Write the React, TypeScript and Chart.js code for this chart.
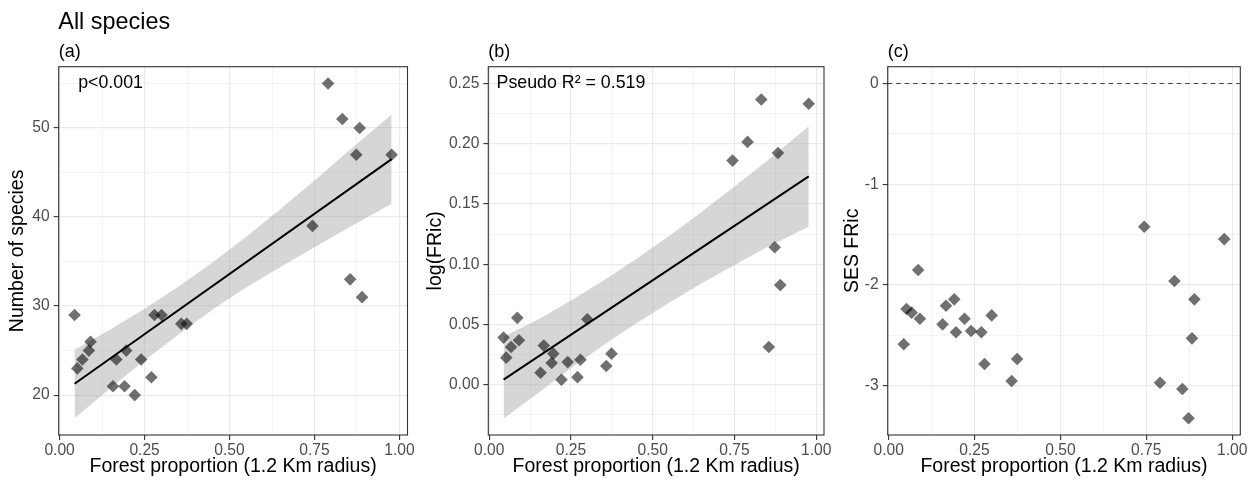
import React, { useEffect, useRef } from 'react';
import { Chart, registerables } from 'chart.js';

Chart.register(...registerables);

const FONT = "'Liberation Sans', Arial, Helvetica, sans-serif";

// ---- data ----
const forestProp = [0.044, 0.052, 0.067, 0.086, 0.091, 0.157, 0.167, 0.191, 0.196, 0.221, 0.240, 0.270, 0.279, 0.300, 0.358, 0.374, 0.744, 0.790, 0.832, 0.855, 0.873, 0.883, 0.890, 0.977];
const nSpecies = [29, 23, 24, 25, 26, 21, 24, 21, 25, 20, 24, 22, 29, 29, 28, 28, 39, 55, 51, 33, 47, 50, 31, 47];
const logFRic = [0.0391, 0.0225, 0.0313, 0.0555, 0.0369, 0.010, 0.0325, 0.018, 0.0258, 0.0042, 0.0188, 0.0063, 0.0208, 0.0544, 0.0155, 0.0258, 0.186, 0.2015, 0.2367, 0.0313, 0.1141, 0.1923, 0.0827, 0.2331];
const sesFRic = [-2.589, -2.239, -2.275, -1.852, -2.335, -2.391, -2.206, -2.143, -2.470, -2.335, -2.457, -2.470, -2.785, -2.302, -2.953, -2.735, -1.423, -2.970, -1.961, -3.033, -3.323, -2.530, -2.143, -1.545];

// fitted lines (start/end) and confidence bands
const fitX = [0.044, 0.977];
const fitA = [21.27, 46.5];
const fitB = [0.0042, 0.1729];
const bandX = [0.044, 0.15, 0.25, 0.35, 0.45, 0.55, 0.65, 0.75, 0.85, 0.977];
const bandLowA = [17.4, 20.8, 23.9, 26.8, 29.6, 32.1, 34.4, 36.6, 38.8, 41.5];
const bandHighA = [25.1, 27.4, 29.7, 32.2, 34.9, 37.8, 40.9, 44.1, 47.4, 51.5];
const bandLowB = [-0.028, -0.0069, 0.0136, 0.0329, 0.0511, 0.0681, 0.0842, 0.0994, 0.1142, 0.1312];
const bandHighB = [0.040, 0.0541, 0.0698, 0.0865, 0.1045, 0.1235, 0.1436, 0.1644, 0.1858, 0.2145];

// axes
const xRange = [-0.0027, 1.0237];
const xMajor = [0, 0.25, 0.5, 0.75, 1];
const xMinor = [0.125, 0.375, 0.625, 0.875];
const xTickLabels = ['0.00', '0.25', '0.50', '0.75', '1.00'];
const xTitle = 'Forest proportion (1.2 Km radius)';

const yRangeA = [15.52, 56.88];
const yMajorA = [20, 30, 40, 50];
const yMinorA = [25, 35, 45, 55];
const yLabelsA = ['20', '30', '40', '50'];

const yRangeB = [-0.0417, 0.2639];
const yMajorB = [0, 0.05, 0.1, 0.15, 0.2, 0.25];
const yMinorB = [-0.025, 0.025, 0.075, 0.125, 0.175, 0.225];
const yLabelsB = ['0.00', '0.05', '0.10', '0.15', '0.20', '0.25'];

const yRangeC = [-3.489, 0.166];
const yMajorC = [-3, -2, -1, 0];
const yMinorC = [-2.5, -1.5, -0.5];
const yLabelsC = ['-3', '-2', '-1', '0'];
const refLineC = 0;

const mainTitle = 'All species';

type Note = { text: string; x: number; y: number };
type Spec = {
  tag: string; left: number; width: number; axisWidth: number; padRight: number;
  yRange: number[]; yMajor: number[]; yMinor: number[]; yLabels: string[]; yTitle: string;
  points: number[]; fit?: number[]; bandLow?: number[]; bandHigh?: number[];
  note?: Note; refLine?: number; title?: string;
};

const panels: Spec[] = [
  { tag: '(a)', left: 0, width: 418, axisWidth: 58.7, padRight: 10.5, yRange: yRangeA, yMajor: yMajorA, yMinor: yMinorA, yLabels: yLabelsA, yTitle: 'Number of species', points: nSpecies, fit: fitA, bandLow: bandLowA, bandHigh: bandHighA, note: { text: 'p<0.001', x: 0.15, y: 55 }, title: mainTitle },
  { tag: '(b)', left: 418, width: 417, axisWidth: 70.3, padRight: 11, yRange: yRangeB, yMajor: yMajorB, yMinor: yMinorB, yLabels: yLabelsB, yTitle: 'log(FRic)', points: logFRic, fit: fitB, bandLow: bandLowB, bandHigh: bandHighB, note: { text: 'Pseudo R\u00B2 = 0.519', x: 0.25, y: 0.25 } },
  { tag: '(c)', left: 835, width: 422, axisWidth: 52.7, padRight: 16.7, yRange: yRangeC, yMajor: yMajorC, yMinor: yMinorC, yLabels: yLabelsC, yTitle: 'SES FRic', points: sesFRic, refLine: refLineC },
];

const isIn = (v: number, arr: number[]) => arr.some((a) => Math.abs(a - v) < 1e-9);

function gridFor(major: number[]) {
  return {
    color: '#ebebeb',
    lineWidth: (ctx: any) => (ctx.tick && isIn(ctx.tick.value, major) ? 1.2 : 0.6),
    tickColor: (ctx: any) => (ctx.tick && isIn(ctx.tick.value, major) ? '#333333' : 'rgba(0,0,0,0)'),
    tickLength: 5,
    tickWidth: 1.1,
    drawTicks: true,
    drawOnChartArea: true,
  };
}

function buildConfig(p: Spec): any {
  const datasets: any[] = [
    {
      type: 'scatter',
      label: 'sites',
      order: 0,
      data: forestProp.map((x, i) => ({ x, y: p.points[i] })),
      pointStyle: 'rectRot',
      pointRadius: 6.3,
      pointHoverRadius: 6.3,
      backgroundColor: 'rgba(0,0,0,0.56)',
      borderColor: 'rgba(0,0,0,0)',
      borderWidth: 0,
    },
  ];
  if (p.fit && p.bandLow && p.bandHigh) {
    datasets.push({
      type: 'line', label: 'fit', order: 1,
      data: fitX.map((x, i) => ({ x, y: p.fit![i] })),
      borderColor: '#000000', borderWidth: 2, pointRadius: 0, fill: false, tension: 0,
    });
    datasets.push({
      type: 'line', label: 'upper', order: 2,
      data: bandX.map((x, i) => ({ x, y: p.bandHigh![i] })),
      borderColor: 'rgba(0,0,0,0)', borderWidth: 1, pointRadius: 0, tension: 0,
      fill: '+1', backgroundColor: 'rgba(153,153,153,0.4)',
    });
    datasets.push({
      type: 'line', label: 'lower', order: 3,
      data: bandX.map((x, i) => ({ x, y: p.bandLow![i] })),
      borderColor: 'rgba(0,0,0,0)', borderWidth: 1, pointRadius: 0, tension: 0, fill: false,
    });
  }

  const decor = {
    id: 'decor' + p.tag,
    beforeDatasetsDraw(chart: any) {
      if (p.refLine === undefined) return;
      const { ctx, chartArea } = chart;
      const y = chart.scales.y.getPixelForValue(p.refLine);
      ctx.save();
      ctx.strokeStyle = '#444444';
      ctx.lineWidth = 1.1;
      ctx.setLineDash([4.5, 4]);
      ctx.beginPath();
      ctx.moveTo(chartArea.left, y);
      ctx.lineTo(chartArea.right, y);
      ctx.stroke();
      ctx.restore();
    },
    afterDraw(chart: any) {
      const { ctx, chartArea } = chart;
      ctx.save();
      // panel border
      ctx.strokeStyle = '#333333';
      ctx.lineWidth = 1.1;
      ctx.strokeRect(chartArea.left, chartArea.top, chartArea.right - chartArea.left, chartArea.bottom - chartArea.top);
      // annotation
      if (p.note) {
        ctx.fillStyle = '#000000';
        ctx.font = `17.8px ${FONT}`;
        ctx.textAlign = 'center';
        ctx.textBaseline = 'middle';
        ctx.fillText(p.note.text, chart.scales.x.getPixelForValue(p.note.x), chart.scales.y.getPixelForValue(p.note.y));
      }
      // titles
      ctx.fillStyle = '#000000';
      ctx.textAlign = 'left';
      ctx.textBaseline = 'alphabetic';
      if (p.title) {
        ctx.font = `23.4px ${FONT}`;
        ctx.fillText(p.title, chartArea.left - 0.4, 29);
      }
      ctx.font = `18px ${FONT}`;
      ctx.fillText(p.tag, chartArea.left, 56.8);
      ctx.restore();
    },
  };

  const sortTicks = (a: number[], b: number[]) => [...a, ...b].sort((m, n) => m - n).map((v) => ({ value: v }));

  return {
    type: 'scatter',
    data: { datasets },
    plugins: [decor],
    options: {
      responsive: false,
      maintainAspectRatio: false,
      animation: false,
      devicePixelRatio: 1,
      events: [],
      layout: { padding: { left: 0, right: p.padRight, top: 66.7, bottom: 0 } },
      plugins: { legend: { display: false }, tooltip: { enabled: false }, title: { display: false } },
      scales: {
        x: {
          type: 'linear',
          min: xRange[0],
          max: xRange[1],
          afterBuildTicks: (s: any) => { s.ticks = sortTicks(xMajor, xMinor); },
          afterFit: (s: any) => { s.height = 45; s.paddingLeft = 0; s.paddingRight = 0; },
          ticks: {
            autoSkip: false, maxRotation: 0, minRotation: 0, padding: 1.5,
            color: '#4d4d4d', font: { family: FONT, size: 15.6 },
            callback: (v: any) => { const i = xMajor.findIndex((m) => Math.abs(m - v) < 1e-9); return i >= 0 ? xTickLabels[i] : ''; },
          },
          grid: gridFor(xMajor),
          border: { display: false },
          title: { display: true, text: xTitle, color: '#000000', font: { family: FONT, size: 19.5 }, padding: { top: 0, bottom: 2 } },
        },
        y: {
          type: 'linear',
          min: p.yRange[0],
          max: p.yRange[1],
          afterBuildTicks: (s: any) => { s.ticks = sortTicks(p.yMajor, p.yMinor); },
          afterFit: (s: any) => { s.width = p.axisWidth; s.paddingTop = 0; s.paddingBottom = 0; },
          ticks: {
            autoSkip: false, padding: 4,
            color: '#4d4d4d', font: { family: FONT, size: 15.6 },
            callback: (v: any) => { const i = p.yMajor.findIndex((m) => Math.abs(m - v) < 1e-9); return i >= 0 ? p.yLabels[i] : ''; },
          },
          grid: gridFor(p.yMajor),
          border: { display: false },
          title: { display: true, text: p.yTitle, color: '#000000', font: { family: FONT, size: 19.5 }, padding: { top: 5.5, bottom: 0 } },
        },
      },
    },
  };
}

function Panel({ spec }: { spec: Spec }) {
  const ref = useRef<HTMLCanvasElement>(null);
  useEffect(() => {
    if (!ref.current) return;
    const chart = new Chart(ref.current, buildConfig(spec));
    return () => chart.destroy();
  }, [spec]);
  return (
    <canvas
      ref={ref}
      width={spec.width}
      height={480}
      style={{ position: 'absolute', left: spec.left, top: 0, width: spec.width, height: 480 }}
    />
  );
}

export default function App() {
  return (
    <div style={{ position: 'absolute', left: 0, top: 0, width: 1257, height: 480, background: '#ffffff', overflow: 'hidden' }}>
      {panels.map((p) => (
        <Panel key={p.tag} spec={p} />
      ))}
    </div>
  );
}
